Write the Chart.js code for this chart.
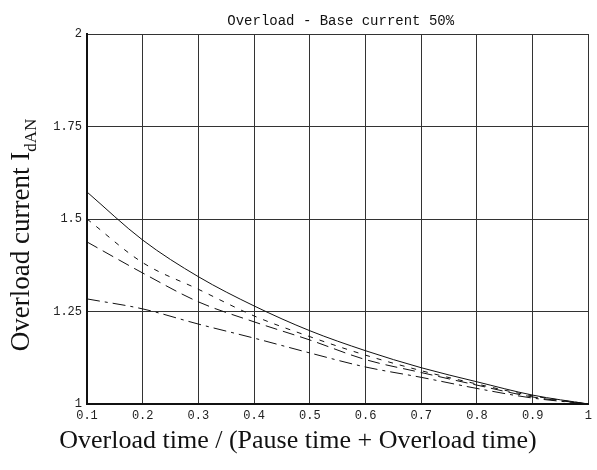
<!DOCTYPE html>
<html>
<head>
<meta charset="utf-8">
<script src="https://cdn.jsdelivr.net/npm/chart.js@4.4.1/dist/chart.umd.min.js"></script>
<style>
  html, body { margin: 0; padding: 0; background: #fff; }
  #wrap { width: 597px; height: 470px; position: relative; }
</style>
</head>
<body>
<div id="wrap"><canvas id="c" width="597" height="470"></canvas></div>
<script>
// ---- data ----
const xValues = [0.1, 0.2, 0.3, 0.4, 0.5, 0.6, 0.7, 0.8, 0.9, 1.0];
const xTickLabels = ['0.1', '0.2', '0.3', '0.4', '0.5', '0.6', '0.7', '0.8', '0.9', '1'];
const yTickValues = [1, 1.25, 1.5, 1.75, 2];
const yTickLabels = ['1', '1.25', '1.5', '1.75', '2'];
const seriesSolid     = [1.573, 1.443, 1.344, 1.265, 1.198, 1.144, 1.098, 1.060, 1.024, 1.0];
const seriesShortDash = [1.500, 1.382, 1.310, 1.238, 1.182, 1.132, 1.090, 1.054, 1.022, 1.0];
const seriesLongDash  = [1.438, 1.354, 1.276, 1.222, 1.173, 1.120, 1.085, 1.051, 1.019, 1.0];
const seriesDashDot   = [1.284, 1.257, 1.216, 1.178, 1.138, 1.100, 1.072, 1.042, 1.016, 1.0];
const chartTitle = 'Overload - Base current 50%';
const xTitle = 'Overload time / (Pause time + Overload time)';
const yTitleMain = 'Overload current I';
const yTitleSub = 'dAN';

const toPts = arr => arr.map((v, i) => ({ x: xValues[i], y: v }));

const textPlugin = {
  id: 'texts',
  afterDraw(chart) {
    const ctx = chart.ctx;
    const area = chart.chartArea;
    ctx.save();
    ctx.fillStyle = '#111';
    // title
    ctx.font = '14px "Liberation Mono", monospace';
    ctx.textAlign = 'center';
    ctx.textBaseline = 'alphabetic';
    ctx.fillText(chartTitle, (area.left + area.right) / 2 + 3, 25);
    // x title
    ctx.font = '26px "Liberation Serif", serif';
    ctx.fillText(xTitle, 298, 448);
    // y title with subscript
    ctx.translate(29, 235);
    ctx.rotate(-Math.PI / 2);
    ctx.textAlign = 'left';
    ctx.font = '27px "Liberation Serif", serif';
    const wMain = ctx.measureText(yTitleMain).width;
    ctx.font = '17px "Liberation Serif", serif';
    const wSub = ctx.measureText(yTitleSub).width;
    const start = -(wMain + wSub) / 2;
    ctx.font = '27px "Liberation Serif", serif';
    ctx.fillText(yTitleMain, start, 0);
    ctx.font = '17px "Liberation Serif", serif';
    ctx.fillText(yTitleSub, start + wMain, 7);
    ctx.restore();
  }
};

const mkDs = (data, dash) => ({
  data: toPts(data),
  borderColor: '#111',
  borderWidth: 1,
  borderDash: dash,
  pointRadius: 0,
  fill: false,
  cubicInterpolationMode: 'monotone'
});

new Chart(document.getElementById('c'), {
  type: 'line',
  data: {
    datasets: [
      mkDs(seriesSolid, []),
      mkDs(seriesShortDash, [5, 7]),
      mkDs(seriesLongDash, [12, 6]),
      mkDs(seriesDashDot, [13, 5, 3, 5])
    ]
  },
  options: {
    responsive: false,
    animation: false,
    events: [],
    layout: { padding: { top: 34, right: 8, left: 0, bottom: 0 } },
    plugins: {
      legend: { display: false },
      title: { display: false },
      tooltip: { enabled: false }
    },
    scales: {
      x: {
        type: 'linear',
        min: 0.1,
        max: 1,
        afterBuildTicks: s => { s.ticks = xValues.map(v => ({ value: v })); },
        afterFit: s => { s.height = 66; },
        ticks: {
          padding: 5,
          color: '#222',
          font: { family: '"Liberation Mono", monospace', size: 12 },
          maxRotation: 0,
          autoSkip: false,
          callback: (v, i) => xTickLabels[i]
        },
        grid: { color: '#333', lineWidth: 1, drawTicks: false },
        border: { display: true, color: '#111', width: 2 }
      },
      y: {
        type: 'linear',
        min: 1,
        max: 2,
        afterBuildTicks: s => { s.ticks = yTickValues.map(v => ({ value: v })); },
        afterFit: s => { s.width = 87; },
        ticks: {
          padding: 5,
          color: '#222',
          font: { family: '"Liberation Mono", monospace', size: 12 },
          autoSkip: false,
          callback: (v, i) => yTickLabels[i]
        },
        grid: { color: '#333', lineWidth: 1, drawTicks: false },
        border: { display: true, color: '#111', width: 2 }
      }
    }
  },
  plugins: [textPlugin]
});
</script>
</body>
</html>
